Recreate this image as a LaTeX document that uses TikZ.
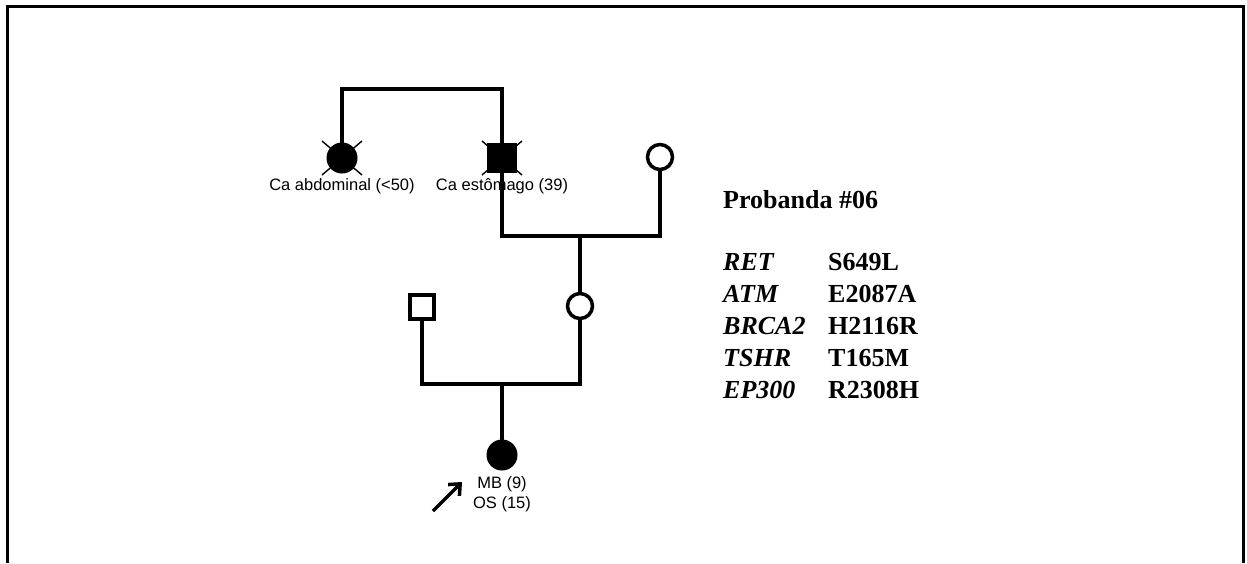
\documentclass[tikz,border=0pt]{standalone}
\usepackage{fontspec}
\setmainfont{Liberation Serif}
\newfontfamily\pedfont{Liberation Sans}
\usetikzlibrary{arrows.meta,positioning}

\tikzset{
    female/.style={circle, draw, line width=3.5pt, inner sep=0pt, minimum size=25pt},
    male/.style={rectangle, draw, line width=3.5pt, inner sep=0pt, minimum size=24pt},
    affected/.style={fill=black, line width=1pt, minimum size=30pt},
    deadmark/.style={line width=1.4pt, black},
    kin/.style={line width=3.8pt, line cap=rect},
    pedlabel/.style={font=\pedfont\fontsize{16.5}{20}\selectfont, inner sep=0pt, align=center},
    genetext/.style={font=\fontsize{26}{30}\selectfont, inner sep=0pt, anchor=base west}
}

\begin{document}
\begin{tikzpicture}[x=1pt, y=-1pt]

    \useasboundingbox (0,0) rectangle (1247,563);

    % frame
        \draw [line width=3pt] (7,563) -- (7,6) -- (1243,6) -- (1243,563);

    % Generation I
        %% great aunt and grandfather
        \node [female, affected] (gaunt) at (342,158) {};
        \node [male, affected, minimum size=29pt] (gfather) at (502,158) {};
        \node [female] (gmother) at (660,157) {};

        \draw [deadmark] (gaunt.center) ++(-20,-17) -- ++(40,34);
        \draw [deadmark] (gaunt.center) ++(20,-17) -- ++(-40,34);
        \draw [deadmark] (gfather.center) ++(-20,-17) -- ++(40,34);
        \draw [deadmark] (gfather.center) ++(20,-17) -- ++(-40,34);

        \node [pedlabel, below=5pt of gaunt] (gauntlbl) {Ca abdominal (<50)};
        \node [pedlabel, below=5pt of gfather] (gfatherlbl) {Ca estômago (39)};

        %% sibship line
        \coordinate (sib1) at (420,89);
        \draw [kin] (gaunt.north) |- (sib1) -| (gfather.north);

        %% mating line
        \coordinate (mate1) at (580,236);
        \draw [kin] (gfather.south) |- (mate1) -| (gmother.south);

    % Generation II
        \node [female] (mother) at (580,306) {};
        \node [male] (father) at (422,307) {};
        \draw [kin] (mate1) -- (mother.north);

        \coordinate (mate2) at (502,384);
        \draw [kin] (father.south) |- (mate2) -| (mother.south);

    % Generation III
        \node [female, affected] (proband) at (502,455) {};
        \draw [kin] (mate2) -- (proband.north);

        \node [pedlabel, below=6pt of proband] (probandlbl) {MB (9)\\OS (15)};

        \coordinate (arrowtail) at (433,511);
        \draw [line width=3.5pt, -{Straight Barb[length=9pt, width=16pt]}]
            (arrowtail) -- ++(29,-29);

    % variants
        \node [genetext, font=\bfseries\fontsize{26}{30}\selectfont] (title) at (723,208) {Probanda \#06};

        \foreach \gene/\var [count=\i from 0] in {RET/S649L, ATM/E2087A, BRCA2/H2116R, TSHR/T165M, EP300/R2308H}
        {
            \node [genetext, font=\bfseries\itshape\fontsize{26}{30}\selectfont] (gene\i) at (723,{270+32*\i}) {\gene};
            \node [genetext, font=\bfseries\fontsize{26}{30}\selectfont] (var\i) at (828,{270+32*\i}) {\var};
        }

\end{tikzpicture}
\end{document}
